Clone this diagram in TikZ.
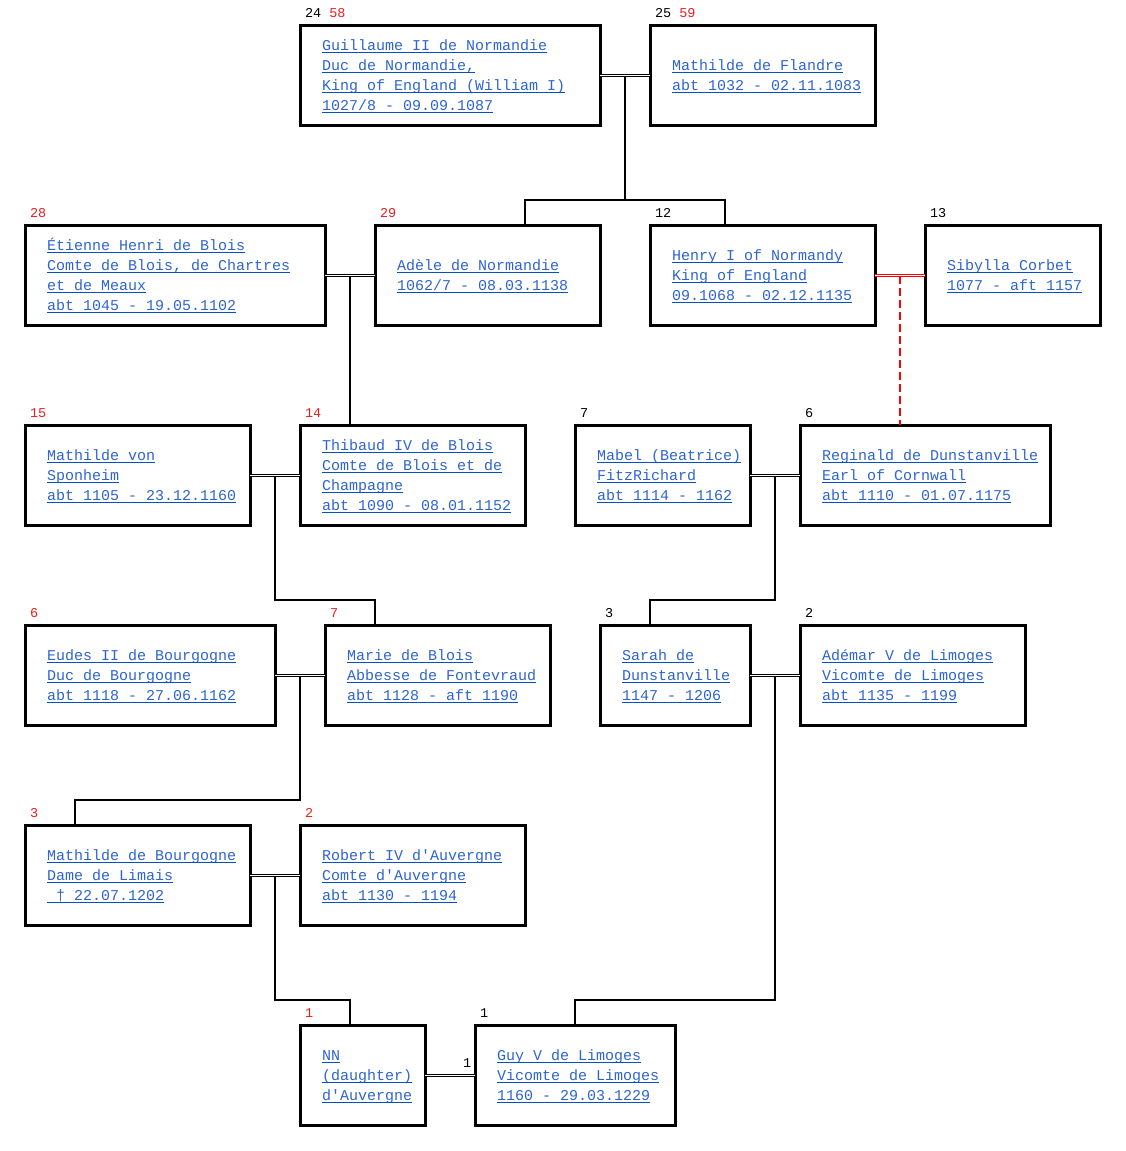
\documentclass[tikz,border=0pt]{standalone}
\usepackage{fontspec}
\setmonofont{Liberation Mono}
\usetikzlibrary{calc}
\definecolor{lnk}{RGB}{45,100,210}
\definecolor{lnkul}{RGB}{0,80,200}
\definecolor{numred}{RGB}{235,30,30}
\frenchspacing
\tikzset{
  box/.style={draw, line width=3pt, inner sep=0pt, outer sep=0pt, anchor=north west},
  nm/.style={font=\ttfamily\fontsize{15}{20}\selectfont, text=lnk, inner sep=0pt, outer sep=0pt, anchor=base west},
  ul/.style={draw=lnkul, line width=1pt},
  lbl/.style={font=\ttfamily\fontsize{13.5}{16}\selectfont, inner sep=0pt, outer sep=0pt, anchor=base west},
  conn/.style={line width=2pt},
  redconn/.style={line width=2pt, draw=red, dash pattern=on 8pt off 4pt},
  dbl/.style={double, double distance=1pt, line width=1pt},
  reddbl/.style={draw=red, double=white, double distance=1pt, line width=1pt},
}
\newcommand\person[8]{%
  \node[box, minimum width={#4-#2}, minimum height={#5-#3}] (#1) at (#2,#3) {};
  \node[lbl] (#1-lbl) at (#2+5,#3-7.5) {#7};
  \foreach \t [count=\i] in {#8} {
    \pgfmathsetmacro\yy{(#3+#5)/2+5+20*(\i-(#6+1)/2)}
    \node[nm] (#1-\i) at (#2+22,\yy) {\t};
    \draw[ul] ([yshift=-2.7pt]#1-\i.base west) -- ([yshift=-2.7pt]#1-\i.base east);
  }
}
\begin{document}
\begin{tikzpicture}[x=1pt,y=-1pt]
\useasboundingbox (0,0) rectangle (1126,1151);

% row 1
\person{gm}{300}{25}{600}{125}{4}{24 \textcolor{numred}{58}}{{Guillaume II de Normandie},{Duc de Normandie,},{King of England (William I)},{1027/8 - 09.09.1087}}
\person{mf}{650}{25}{875}{125}{2}{25 \textcolor{numred}{59}}{{Mathilde de Flandre},{abt 1032 - 02.11.1083}}

% row 2
\person{eh}{25}{225}{325}{325}{4}{\textcolor{numred}{28}}{{Étienne Henri de Blois},{Comte de Blois, de Chartres},{et de Meaux},{abt 1045 - 19.05.1102}}
\person{ad}{375}{225}{600}{325}{2}{\textcolor{numred}{29}}{{Adèle de Normandie},{1062/7 - 08.03.1138}}
\person{hy}{650}{225}{875}{325}{3}{12}{{Henry I of Normandy},{King of England},{09.1068 - 02.12.1135}}
\person{sc}{925}{225}{1100}{325}{2}{13}{{Sibylla Corbet},{1077 - aft 1157}}

% row 3
\person{ms}{25}{425}{250}{525}{3}{\textcolor{numred}{15}}{{Mathilde von},{Sponheim},{abt 1105 - 23.12.1160}}
\person{th}{300}{425}{525}{525}{4}{\textcolor{numred}{14}}{{Thibaud IV de Blois},{Comte de Blois et de},{Champagne},{abt 1090 - 08.01.1152}}
\person{mb}{575}{425}{750}{525}{3}{7}{{Mabel (Beatrice)},{FitzRichard},{abt 1114 - 1162}}
\person{rd}{800}{425}{1050}{525}{3}{6}{{Reginald de Dunstanville},{Earl of Cornwall},{abt 1110 - 01.07.1175}}

% row 4
\person{eu}{25}{625}{275}{725}{3}{\textcolor{numred}{6}}{{Eudes II de Bourgogne},{Duc de Bourgogne},{abt 1118 - 27.06.1162}}
\person{mr}{325}{625}{550}{725}{3}{\textcolor{numred}{7}}{{Marie de Blois},{Abbesse de Fontevraud},{abt 1128 - aft 1190}}
\person{sd}{600}{625}{750}{725}{3}{3}{{Sarah de},{Dunstanville},{1147 - 1206}}
\person{am}{800}{625}{1025}{725}{3}{2}{{Adémar V de Limoges},{Vicomte de Limoges},{abt 1135 - 1199}}

% row 5
\person{mg}{25}{825}{250}{925}{3}{\textcolor{numred}{3}}{{Mathilde de Bourgogne},{Dame de Limais},{\ † 22.07.1202}}
\person{ra}{300}{825}{525}{925}{3}{\textcolor{numred}{2}}{{Robert IV d'Auvergne},{Comte d'Auvergne},{abt 1130 - 1194}}

% row 6
\person{nn}{300}{1025}{425}{1125}{3}{\textcolor{numred}{1}}{{NN},{(daughter)},{d'Auvergne}}
\person{gy}{475}{1025}{675}{1125}{3}{1}{{Guy V de Limoges},{Vicomte de Limoges},{1160 - 29.03.1229}}
\node[lbl] (gy-mark) at (463,1067) {1};

% junctions
\coordinate (j1) at ($(gm.east)!0.5!(mf.west)$);
\coordinate (j2) at ($(eh.east)!0.5!(ad.west)$);
\coordinate (j3) at ($(hy.east)!0.5!(sc.west)$);
\coordinate (j4) at ($(ms.east)!0.5!(th.west)$);
\coordinate (j5) at ($(mb.east)!0.5!(rd.west)$);
\coordinate (j6) at ($(eu.east)!0.5!(mr.west)$);
\coordinate (j7) at ($(sd.east)!0.5!(am.west)$);
\coordinate (j8) at ($(mg.east)!0.5!(ra.west)$);

% child attach points
\coordinate (ad-in) at ([xshift=150pt]ad.north west);
\coordinate (hy-in) at ([xshift=75pt]hy.north west);
\coordinate (th-in) at ([xshift=50pt]th.north west);
\coordinate (rd-in) at ([xshift=100pt]rd.north west);
\coordinate (mr-in) at ([xshift=50pt]mr.north west);
\coordinate (sd-in) at ([xshift=50pt]sd.north west);
\coordinate (mg-in) at ([xshift=50pt]mg.north west);
\coordinate (nn-in) at ([xshift=50pt]nn.north west);
\coordinate (gy-in) at ([xshift=100pt]gy.north west);

% couple lines
\draw[dbl] (gm.east) -- (mf.west);
\draw[dbl] (eh.east) -- (ad.west);
\draw[reddbl] (hy.east) -- (sc.west);
\draw[dbl] (ms.east) -- (th.west);
\draw[dbl] (mb.east) -- (rd.west);
\draw[dbl] (eu.east) -- (mr.west);
\draw[dbl] (sd.east) -- (am.west);
\draw[dbl] (mg.east) -- (ra.west);
\draw[dbl] (nn.east) -- (gy.west);

% descent lines
\draw[conn] ([yshift=-1pt]j1) |- ([yshift=25pt]ad-in) -- (ad-in);
\draw[conn] ([yshift=-1pt]j1) |- ([yshift=25pt]hy-in) -- (hy-in);
\draw[conn] ([yshift=-1pt]j2) -- (th-in);
\draw[redconn] ([yshift=-1pt]j3) -- (rd-in);
\draw[conn] ([yshift=-1pt]j4) |- ([yshift=25pt]mr-in) -- (mr-in);
\draw[conn] ([yshift=-1pt]j5) |- ([yshift=25pt]sd-in) -- (sd-in);
\draw[conn] ([yshift=-1pt]j6) |- ([yshift=25pt]mg-in) -- (mg-in);
\draw[conn] ([yshift=-1pt]j7) |- ([yshift=25pt]gy-in) -- (gy-in);
\draw[conn] ([yshift=-1pt]j8) |- ([yshift=25pt]nn-in) -- (nn-in);
\end{tikzpicture}
\end{document}
